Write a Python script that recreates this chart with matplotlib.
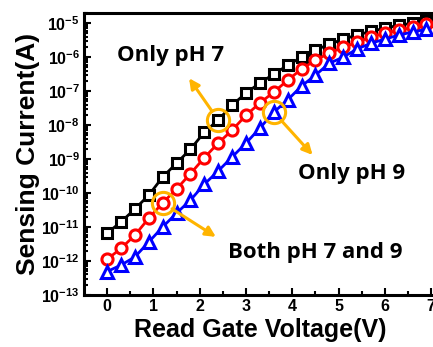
import numpy as np
import matplotlib
matplotlib.use("Agg")
import matplotlib.pyplot as plt
from matplotlib.ticker import FixedLocator, FuncFormatter, LogLocator, NullFormatter

plt.rcParams['font.family'] = ['Liberation Sans', 'DejaVu Sans']
plt.rcParams['mathtext.fontset'] = 'custom'
plt.rcParams['mathtext.bf'] = 'Liberation Sans:bold'
plt.rcParams['mathtext.rm'] = 'Liberation Sans'

# read gate voltage (V), step 0.3
voltage = [0.0, 0.3, 0.6, 0.9, 1.2, 1.5, 1.8, 2.1, 2.4, 2.7, 3.0, 3.3,
           3.6, 3.9, 4.2, 4.5, 4.8, 5.1, 5.4, 5.7, 6.0, 6.3, 6.6, 6.9]

# log10 of sensing current (A)
log_ph7 = [-11.18, -10.85, -10.47, -10.06, -9.53, -9.12, -8.71, -8.21,
           -7.85, -7.41, -7.06, -6.76, -6.50, -6.24, -6.00, -5.79,
           -5.62, -5.47, -5.35, -5.24, -5.15, -5.06, -5.00, -4.94]
log_both = [-11.95, -11.63, -11.24, -10.74, -10.29, -9.88, -9.43, -8.96,
            -8.53, -8.15, -7.71, -7.35, -7.03, -6.68, -6.35, -6.09,
            -5.88, -5.71, -5.56, -5.41, -5.29, -5.21, -5.12, -5.03]
log_ph9 = [-12.31, -12.12, -11.88, -11.44, -11.00, -10.59, -10.21, -9.74,
           -9.35, -8.94, -8.53, -8.09, -7.62, -7.26, -6.85, -6.53,
           -6.18, -6.00, -5.76, -5.59, -5.47, -5.35, -5.26, -5.18]

orange = '#FFB400'

fig = plt.figure(figsize=(4.33, 3.47), dpi=100)
ax = fig.add_axes([0.194, 0.150, 0.855, 0.8126])

ax.plot(voltage, 10 ** np.array(log_ph7), '-s', color='black', lw=2,
        ms=7.5, mfc='white', mew=2.2)
ax.plot(voltage, 10 ** np.array(log_both), '-o', color='red', lw=2,
        ms=8, mfc='white', mew=2.2)
ax.plot(voltage, 10 ** np.array(log_ph9), '-^', color='blue', lw=2,
        ms=8.5, mfc='white', mew=2.2)

ax.set_yscale('log')
ax.set_xlim(-0.5, 7.5)
ax.set_ylim(1e-13, 2e-5)

ax.xaxis.set_major_locator(FixedLocator([0, 1, 2, 3, 4, 5, 6, 7]))
ax.xaxis.set_minor_locator(FixedLocator([0.5, 1.5, 2.5, 3.5, 4.5, 5.5, 6.5]))
ax.yaxis.set_major_locator(FixedLocator([10.0 ** k for k in range(-13, -4)]))
ax.yaxis.set_minor_locator(LogLocator(base=10, subs=np.arange(2, 10), numticks=30))
ax.yaxis.set_minor_formatter(NullFormatter())
ax.yaxis.set_major_formatter(FuncFormatter(
    lambda v, p: r'$\mathbf{10^{%d}}$' % round(np.log10(v))))

ax.tick_params(which='both', direction='in', width=1.5, top=False, right=False)
ax.tick_params(which='major', length=5, labelsize=11.5, pad=3)
ax.tick_params(which='minor', length=3)
for lab in ax.get_xticklabels():
    lab.set_fontweight('bold')
for s in ax.spines.values():
    s.set_linewidth(2.2)

ax.set_xlabel('Read Gate Voltage(V)', fontsize=18, fontweight='bold')
ax.xaxis.set_label_coords(0.476, -0.08)
ax.set_ylabel('Sensing Current(A)', fontsize=19, fontweight='bold', labelpad=1)

# highlight circles
hl_v = [2.4, 1.2, 3.6]
hl_log = [log_ph7[8], log_both[4], log_ph9[12]]
ax.plot(hl_v, 10 ** np.array(hl_log), 'o', ms=16, mfc='none', mec=orange, mew=2.2)

arrow_ends = [(1.77, -6.62), (2.35, -11.29), (4.44, -8.88)]
for v, lg, (ev, elg) in zip(hl_v, hl_log, arrow_ends):
    ax.annotate('', xy=(ev, 10 ** elg), xytext=(v, 10 ** lg),
                arrowprops=dict(arrowstyle='-|>', color=orange, lw=2.2,
                                mutation_scale=15, shrinkA=8, shrinkB=0))

ann_font = dict(fontsize=16, fontweight='bold', family=['Open Sans', 'DejaVu Sans'],
                ha='center', va='center')
ax.text(1.38, 10 ** -5.94, 'Only pH 7', **ann_font)
ax.text(5.28, 10 ** -9.41, 'Only pH 9', **ann_font)
ax.text(4.5, 10 ** -11.74, 'Both pH 7 and 9', **ann_font)

fig.savefig('out.png', dpi=100)
